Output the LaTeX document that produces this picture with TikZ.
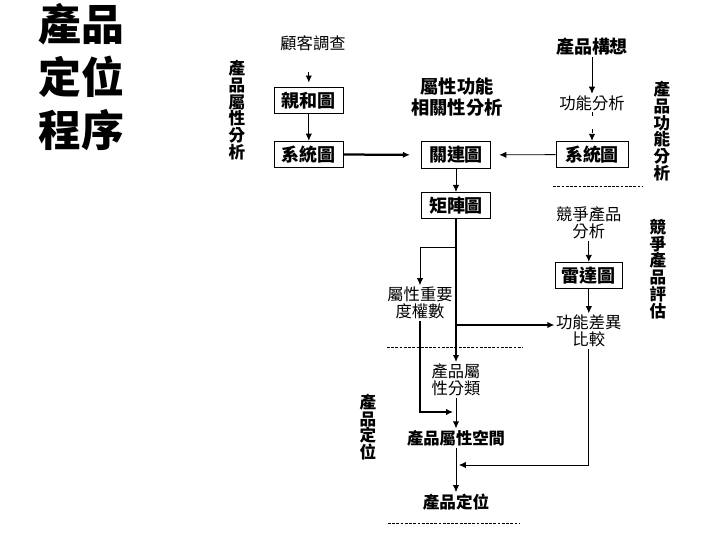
\documentclass[tikz,border=0pt]{standalone}
\usepackage{fontspec}
\setmainfont{Noto Sans CJK TC}
\usetikzlibrary{arrows.meta, positioning}

\begin{document}
\begin{tikzpicture}[
		box/.style={draw, semithick, minimum width=1.72cm, minimum height=0.66cm, inner sep=1pt, font=\bfseries\fontsize{12.8}{14}\selectfont},
		lbl/.style={align=center, inner sep=1pt, font=\fontsize{11.6}{12.2}\selectfont},
		hd/.style={align=center, inner sep=1pt, font=\bfseries\fontsize{11.5}{14}\selectfont},
		vlbl/.style={align=center, inner sep=0pt, font=\bfseries\fontsize{11.8}{11.9}\selectfont},
		arr/.style={semithick, -{Latex[length=5pt, width=4.5pt]}},
		fat/.style={line width=1.6pt},
		sepline/.style={semithick, dash pattern=on 2pt off 1pt}
	]
		\useasboundingbox (0, 0) rectangle (18, 13.5);
		% Title
		\node[align=center, font=\bfseries\fontsize{30.5}{37.7}\selectfont] (title) at (2.025, 11.575) {產品\\定位\\程序};
		
		% Attribute analysis
		\node[vlbl] (attrside) at (5.925, 10.75) {產\\品\\屬\\性\\分\\析};
		\node[lbl] (survey) at (7.825, 12.425) {顧客調查};
		\coordinate (survey-in) at (7.72, 11.7);
		\node[box] (affin) at (7.72, 10.99) {親和圖};
		\node[box] (sysl) at (7.72, 9.64) {系統圖};
		\draw[arr, shorten >=3pt] (survey-in) -- (affin);
		\draw[arr] (affin) -- (sysl);
		
		% Attribute-function correlation
		\node[hd, font=\bfseries\fontsize{13}{15}\selectfont] (corr) at (11.425, 11.075) {屬性功能\\相關性分析};
		\node[box] (relat) at (11.4, 9.625) {關連圖};
		\node[box] (mtx) at (11.4, 8.36) {矩陣圖};
		\draw[arr, fat, shorten >=8pt] (sysl) -- (relat);
		\draw[arr] (relat) -- (mtx);
		
		% Function analysis
		\node[hd, font=\bfseries\fontsize{12.8}{14}\selectfont] (concept) at (14.8, 12.325) {產品構想};
		\node[lbl] (func) at (14.8, 10.925) {功能分析};
		\node[box, minimum width=1.8cm] (sysr) at (14.8, 9.6375) {系統圖};
		\node[vlbl] (funcside) at (16.55, 10.225) {產\\品\\功\\能\\分\\析};
		\draw[arr] (concept) -- (func);
		\draw[arr, dash pattern=on 3pt off 9pt] (func) -- (sysr);
		\draw[arr, shorten >=6pt] (sysr) -- (relat);
		\draw[sepline] (13.83, 8.85) -- (16.08, 8.85);
		
		% Competitor evaluation
		\node[lbl] (compet) at (14.72, 7.925) {競爭產品\\分析};
		\node[box, minimum width=1.68cm] (radar) at (14.72, 6.6125) {雷達圖};
		\node[lbl] (diff) at (14.72, 5.225) {功能差異\\比較};
		\node[vlbl] (compside) at (16.45, 6.775) {競\\爭\\產\\品\\評\\估};
		\draw[arr] (compet) -- (radar);
		\draw[arr] (radar) -- (diff);
		
		% Weights and classes
		\node[lbl] (weight) at (10.5, 5.925) {屬性重要\\度權數};
		\node[lbl] (cls) at (11.4, 4.0) {產品屬\\性分類};
		\coordinate (split1) at (11.4, 7.325);
		\coordinate (split2) at (11.4, 5.375);
		\draw[arr, fat] (mtx) -- (cls);
		\draw[arr] (split1) -| (weight);
		\draw[arr, fat] (split2) -- (split2 -| diff.west);
		\draw[sepline] (9.675, 4.825) -- (13.05, 4.825);
		
		% Positioning
		\node[vlbl] (posside) at (9.2, 2.825) {產\\品\\定\\位};
		\node[hd, font=\bfseries\fontsize{11.6}{13}\selectfont] (space) at (11.4, 2.55) {產品屬性空間};
		\node[hd, font=\bfseries\fontsize{11.8}{13}\selectfont] (pos) at (11.4, 0.95) {產品定位};
		\coordinate (join1) at (11.4, 3.2);
		\coordinate (join2) at (11.4, 1.875);
		\draw[arr, fat, shorten >=2pt] (weight) |- (join1);
		\draw[arr] (cls) -- (space);
		\draw[arr] (space) -- (pos);
		\draw[arr, shorten >=2pt] (diff) |- (join2);
		\draw[sepline] (9.7, 0.425) -- (13.0, 0.425);
	\end{tikzpicture}
\end{document}
